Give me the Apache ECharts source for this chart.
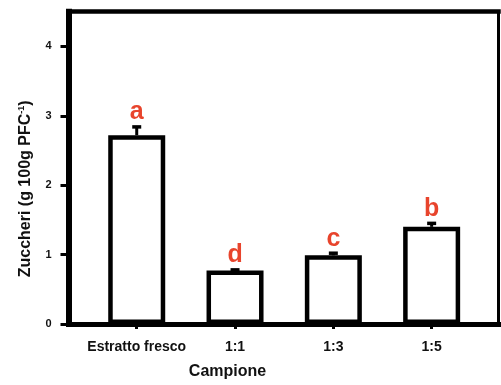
<!DOCTYPE html>
<html>
<head>
<meta charset="utf-8">
<script src="https://cdn.jsdelivr.net/npm/echarts@6/dist/echarts.min.js"></script>
<style>
  html, body { margin: 0; padding: 0; background: #fff; }
  #chart { width: 501px; height: 385px; }
</style>
</head>
<body>
<div id="chart"></div>
<script>
// Sugar content per sample, with standard error and significance letters
const categories = ['Estratto fresco', '1:1', '1:3', '1:5'];
const sugars = [2.72, 0.77, 0.99, 1.40];
const errors = [0.12, 0.01, 0.03, 0.05];
const letters = ['a', 'd', 'c', 'b'];
const yTicks = [0, 1, 2, 3, 4];

const FONT = '"Liberation Sans", Arial, sans-serif';
const catIdx = categories.map((c, i) => i);

const chart = echarts.init(document.getElementById('chart'), null, { renderer: 'canvas' });

const barData = sugars.map((v, i) => [i, v]);
const errData = sugars.map((v, i) => [i, v, errors[i]]);

chart.setOption({
  animation: false,
  backgroundColor: '#fff',
  grid: { left: 68.5, right: 2.5, top: 11.7, bottom: 61, containLabel: false },
  xAxis: [
    {
      type: 'value',
      min: -0.694,
      max: 3.68,
      splitLine: { show: false },
      axisLine: { show: true, onZero: false, lineStyle: { color: '#000', width: 5, cap: 'square' } },
      axisTick: { show: true, inside: false, length: 5, customValues: catIdx, lineStyle: { color: '#000', width: 3 } },
      axisLabel: {
        show: true, customValues: catIdx, margin: 16,
        formatter: v => categories[Math.round(v)] || '',
        color: '#111', fontFamily: FONT, fontWeight: 'bold', fontSize: 14
      },
      name: 'Campione',
      nameLocation: 'middle',
      nameGap: 40,
      nameTextStyle: { color: '#111', fontFamily: FONT, fontWeight: 'bold', fontSize: 16, padding: [0, 112, 0, 0] }
    },
    {
      type: 'value',
      position: 'top',
      min: -0.694,
      max: 3.68,
      splitLine: { show: false },
      axisLine: { show: true, onZero: false, lineStyle: { color: '#000', width: 4.5, cap: 'square' } },
      axisTick: { show: false },
      axisLabel: { show: false }
    }
  ],
  yAxis: [
    {
      type: 'value',
      min: 0,
      max: 4.5,
      splitLine: { show: false },
      axisLine: { show: true, onZero: false, lineStyle: { color: '#000', width: 6, cap: 'square' } },
      axisTick: { show: true, inside: false, length: 8, customValues: yTicks, lineStyle: { color: '#000', width: 3 } },
      axisLabel: {
        show: true, customValues: yTicks, margin: 17,
        color: '#111', fontFamily: FONT, fontWeight: 'bold', fontSize: 11
      },
      name: '{b|Zuccheri (g 100g PFC}{s|-1}{b|)}',
      nameLocation: 'middle',
      nameGap: 34,
      nameTextStyle: {
        padding: [0, 42, 0, 0],
        rich: {
          b: { color: '#111', fontFamily: FONT, fontWeight: 'bold', fontSize: 16 },
          s: { color: '#111', fontFamily: FONT, fontWeight: 'bold', fontSize: 9, verticalAlign: 'top', padding: [0, 0, 8, 0] }
        }
      }
    },
    {
      type: 'value',
      position: 'right',
      min: 0,
      max: 4.5,
      splitLine: { show: false },
      axisLine: { show: true, onZero: false, lineStyle: { color: '#000', width: 3, cap: 'square' } },
      axisTick: { show: false },
      axisLabel: { show: false }
    }
  ],
  series: [
    {
      type: 'bar',
      xAxisIndex: 0,
      yAxisIndex: 0,
      data: barData,
      barWidth: 57,
      itemStyle: { color: '#fff', borderColor: '#000', borderWidth: 4.5 },
      z: 2
    },
    {
      type: 'custom',
      xAxisIndex: 0,
      yAxisIndex: 0,
      data: errData,
      z: 3,
      renderItem: function (params, api) {
        const x = api.value(0);
        const v = api.value(1);
        const e = api.value(2);
        const base = api.coord([x, v]);
        const top = api.coord([x, v + e]);
        const letter = letters[params.dataIndex];
        return {
          type: 'group',
          children: [
            { type: 'line', shape: { x1: base[0], y1: base[1], x2: top[0], y2: top[1] },
              style: { stroke: '#000', lineWidth: 3 } },
            { type: 'line', shape: { x1: top[0] - 4.5, y1: top[1], x2: top[0] + 4.5, y2: top[1] },
              style: { stroke: '#000', lineWidth: 3.5 } },
            { type: 'text', x: top[0], y: top[1] - 2,
              style: { text: letter, fill: '#e8442c', font: 'bold 25px ' + FONT,
                       textAlign: 'center', textVerticalAlign: 'bottom' } }
          ]
        };
      }
    }
  ]
});
</script>
</body>
</html>
